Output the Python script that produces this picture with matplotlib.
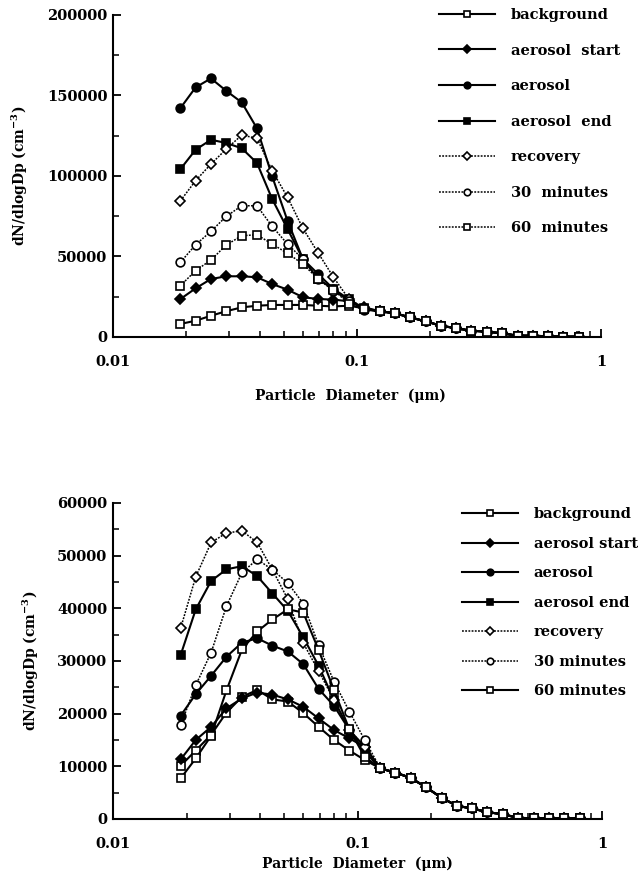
import matplotlib
matplotlib.use("Agg")
import matplotlib.pyplot as plt
from matplotlib.ticker import FixedLocator, NullFormatter

plt.rcParams['font.family'] = ['DejaVu Serif']
plt.rcParams['font.weight'] = 'bold'
plt.rcParams['mathtext.fontset'] = 'dejavuserif'

# particle diameters (um)
diameter = [0.0189, 0.0218, 0.0252, 0.0291, 0.0337, 0.0389, 0.0449, 0.0519, 0.0600,
            0.0693, 0.0801, 0.0926, 0.107, 0.124, 0.143, 0.165, 0.191, 0.221,
            0.255, 0.294, 0.340, 0.393, 0.455, 0.525, 0.607, 0.701, 0.811]

top_labels = ['background', 'aerosol  start', 'aerosol', 'aerosol  end',
              'recovery', '30  minutes', '60  minutes']
bot_labels = ['background', 'aerosol start', 'aerosol', 'aerosol end',
              'recovery', '30 minutes', '60 minutes']

# ---- top panel values (cm-3) ----
top_tail = [16000, 14700, 12200, 9700, 7000, 5400, 3900, 3300, 2300, 800, 800, 400, 200, 200]
top_background = [8100, 10100, 13200, 16000, 18400, 19400, 19900, 19900, 19900,
                  19400, 19000, 19400, 17800] + top_tail
top_start = [23600, 30200, 36000, 37700, 37700, 37100, 32900, 29400, 24700,
             23600, 23200, 22200, 18400] + top_tail
top_aerosol = [142200, 155000, 160600, 152900, 145700, 129600, 99800, 72200, 48400,
               39100, 29800, 22500, 17000] + top_tail
top_end = [104300, 116300, 122500, 120500, 117200, 108100, 85700, 67100, 48400,
           36000, 29800, 23500, 17500] + top_tail
top_recovery = [84600, 97100, 107400, 116700, 125400, 123400, 103300, 86800, 67500,
                52200, 37100, 23600, 18000] + top_tail
top_30min = [46400, 57300, 65600, 74900, 81500, 81500, 68700, 57700, 48400,
             36000, 28700, 22500, 17500] + top_tail
top_60min = [31900, 41200, 47800, 57100, 62900, 63500, 57700, 52000, 45300,
             36000, 29400, 20500, 17200] + top_tail

# ---- bottom panel values (cm-3) ----
bot_tail = [9600, 8800, 7800, 6000, 4000, 2500, 2000, 1300, 900, 200, 150, 150, 100, 100]
bot_background = [10100, 13000, 16000, 20200, 23200, 24500, 22700, 22300, 20100,
                  17500, 15000, 13000, 11200] + bot_tail
bot_start = [11300, 15000, 17500, 21000, 22900, 24000, 23600, 22700, 21300,
             19100, 16900, 15300, 13700] + bot_tail
bot_aerosol = [19600, 23700, 27200, 30800, 33500, 34300, 32900, 31800, 29400,
               24700, 21500, 16900, 12800] + bot_tail
bot_end = [31100, 39800, 45200, 47400, 48000, 46100, 42800, 39500, 34500,
           29100, 22600, 16900, 13700] + bot_tail
bot_recovery = [36200, 46000, 52500, 54300, 54700, 52500, 47300, 41700, 33400,
                28100, 22600, 16900, 13700] + bot_tail
bot_30min = [17800, 25400, 31600, 40400, 46800, 49300, 47300, 44800, 40900,
             33000, 26100, 20400, 15000] + bot_tail
bot_60min = [7700, 11500, 15800, 24400, 32200, 35600, 37900, 39800, 39200,
             32100, 24500, 17000, 11800] + bot_tail

dot = (0, (1.2, 0.9))
top_styles = [('-', 's', 'white'), ('-', 'D', 'black'), ('-', 'o', 'black'), ('-', 's', 'black'),
              (dot, 'D', 'white'), (dot, 'o', 'white'), (dot, 's', 'white')]
bot_styles = [('-', 's', 'white'), ('-', 'D', 'black'), ('-', 'o', 'black'), ('-', 's', 'black'),
              (dot, 'D', 'white'), (dot, 'o', 'white'), ('-', 's', 'white')]


def draw_panel(ax, series, styles, labels, ymax, ystep, yminor):
    handles = []
    for vals, (ls, mk, fc), lab in zip(series, styles, labels):
        ms = 5 if mk == 'D' else 6.3
        lw = 1.1 if ls == dot else 1.5
        h, = ax.plot(diameter, vals, linestyle=ls, marker=mk, markersize=ms,
                     markerfacecolor=fc, markeredgecolor='black', markeredgewidth=1.2,
                     color='black', linewidth=lw, label=lab)
        handles.append(h)
    ax.set_xscale('log')
    ax.set_xlim(0.01, 1)
    ax.set_ylim(0, ymax)
    ax.set_yticks(list(range(0, ymax + 1, ystep)))
    ax.yaxis.set_minor_locator(FixedLocator(list(range(yminor, ymax, ystep))))
    ax.set_xticks([0.01, 0.1, 1])
    ax.set_xticklabels(['0.01', '0.1', '1'])
    ax.xaxis.set_minor_locator(FixedLocator([k * 0.01 for k in range(2, 10)] +
                                            [k * 0.1 for k in range(2, 10)]))
    ax.xaxis.set_minor_formatter(NullFormatter())
    for s in ['top', 'right']:
        ax.spines[s].set_visible(False)
    for s in ['left', 'bottom']:
        ax.spines[s].set_linewidth(1.5)
    ax.tick_params(which='major', direction='in', length=6, width=1.3, labelsize=10.5)
    ax.tick_params(which='minor', direction='in', length=4, width=1.1)
    ax.tick_params(axis='y', pad=4)
    ax.tick_params(axis='x', pad=13)
    ax.set_ylabel('dN/dlogDp (cm$^{\\mathbf{-3}}$)', fontsize=10, fontweight='bold', labelpad=12)
    return handles


fig = plt.figure(figsize=(6.41, 8.81), dpi=100)
ax1 = fig.add_axes([0.1763, 0.6175, 0.7613, 0.3655])
ax2 = fig.add_axes([0.1763, 0.0704, 0.7629, 0.3587])

h1 = draw_panel(ax1, [top_background, top_start, top_aerosol, top_end,
                      top_recovery, top_30min, top_60min], top_styles, top_labels,
                200000, 50000, 25000)
h2 = draw_panel(ax2, [bot_background, bot_start, bot_aerosol, bot_end,
                      bot_recovery, bot_30min, bot_60min], bot_styles, bot_labels,
                60000, 10000, 5000)

ax1.set_xlabel('Particle  Diameter  (μm)', fontsize=10, fontweight='bold', labelpad=14)
ax1.xaxis.label.set_x(0.487)
ax2.set_xlabel('Particle  Diameter  (μm)', fontsize=10, fontweight='bold', labelpad=4)

fig.legend(handles=h1, loc='upper left', bbox_to_anchor=(0.685, 0.991), frameon=False,
           fontsize=10.5, handlelength=3.8, handletextpad=1.1, labelspacing=1.48,
           borderpad=0, borderaxespad=0, markerscale=0.75)
fig.legend(handles=h2, loc='upper left', bbox_to_anchor=(0.721, 0.424), frameon=False,
           fontsize=10.5, handlelength=3.8, handletextpad=1.1, labelspacing=1.06,
           borderpad=0, borderaxespad=0, markerscale=0.75)

fig.savefig('out.png', dpi=100)
